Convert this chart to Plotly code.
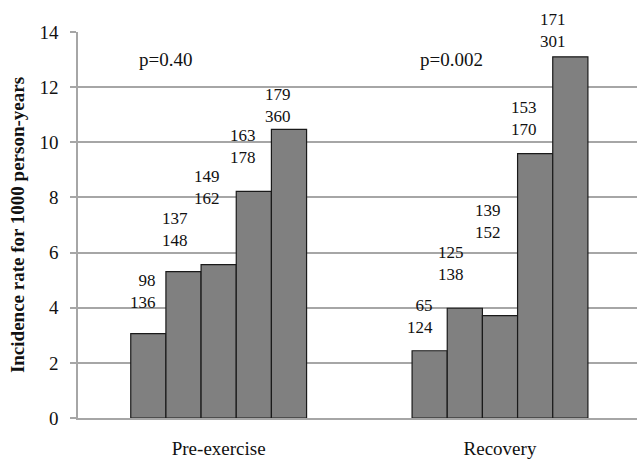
import plotly.graph_objects as go

# Incidence rate per 1000 person-years, five groups within each period
periods = ["Pre-exercise", "Recovery"]
rates = [
    [3.06, 2.44],
    [5.31, 3.98],
    [5.56, 3.71],
    [8.22, 9.59],
    [10.47, 13.10],
]
# Two-line counts shown beside each bar (per period, per group)
counts_top = [["98", "137", "149", "163", "179"], ["65", "125", "139", "153", "171"]]
counts_bottom = [["136", "148", "162", "178", "360"], ["124", "138", "152", "170", "301"]]
p_values = ["p=0.40", "p=0.002"]

# Hand-placed label offsets (pixels) from each bar's centre/top
label_dx = [[10, 6, 3, 4, 4], [5, 1, 3, 4, -2]]
label_dy = [[42, 42, 77, 45, 24], [34, 45, 94, 35, 26]]

SERIF = "Liberation Serif, Times New Roman, serif"
GRID = "#a6a6a6"
n_groups = len(rates)
bargap = 0.375
bar_w = (1 - bargap) / n_groups

fig = go.Figure()
for g in range(n_groups):
    fig.add_trace(go.Bar(
        x=periods, y=rates[g],
        marker=dict(color="#808080", line=dict(color="#1a1a1a", width=1.2)),
        showlegend=False, hoverinfo="x+y",
    ))

annotations = []
for pi in range(len(periods)):
    for g in range(n_groups):
        xc = pi - (1 - bargap) / 2 + bar_w * (g + 0.5)
        annotations.append(dict(
            x=xc, y=rates[g][pi], xref="x", yref="y",
            text=f"{counts_top[pi][g]}<br>{counts_bottom[pi][g]}",
            showarrow=False, xanchor="right", yanchor="middle", align="right",
            xshift=label_dx[pi][g], yshift=label_dy[pi][g],
            font=dict(family=SERIF, size=17, color="#111111"),
        ))
    annotations.append(dict(
        x=pi - 0.29, y=13.0, xref="x", yref="y", text=p_values[pi],
        showarrow=False, xanchor="left", yanchor="middle",
        font=dict(family=SERIF, size=19, color="#111111"),
    ))

fig.update_layout(
    width=637, height=459,
    margin=dict(l=78, r=0, t=32, b=39),
    paper_bgcolor="white", plot_bgcolor="white",
    barmode="group", bargap=bargap, bargroupgap=0,
    annotations=annotations,
    font=dict(family=SERIF, color="#111111"),
)
fig.update_xaxes(
    type="category", range=[-0.5, 1.487],
    showline=True, linecolor=GRID, linewidth=1.5,
    showgrid=False, ticks="", ticklabelstandoff=12,
    tickfont=dict(family=SERIF, size=19, color="#111111"),
)
fig.update_yaxes(
    range=[0, 14], dtick=2, tick0=0,
    showline=True, linecolor=GRID, linewidth=1.5,
    showgrid=True, gridcolor=GRID, gridwidth=1.5,
    zeroline=False,
    ticks="outside", ticklen=6, tickcolor=GRID, tickwidth=1.5,
    ticklabelstandoff=8,
    tickfont=dict(family=SERIF, size=19, color="#111111"),
    title=dict(text="<b>Incidence rate for 1000 person-years</b>", standoff=10,
               font=dict(family=SERIF, size=19, color="#111111")),
)

fig.write_html("out.html")
